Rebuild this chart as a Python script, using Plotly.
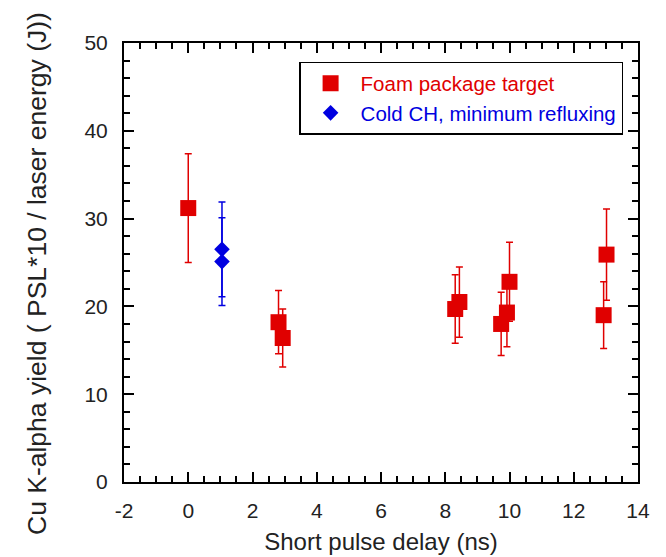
import plotly.graph_objects as go

# Foam package target (red squares)
foam_delay = [0.0, 2.81, 2.94, 8.31, 8.44, 9.74, 9.92, 10.0, 12.93, 13.02]
foam_yield = [31.2, 18.2, 16.4, 19.7, 20.5, 18.0, 19.3, 22.8, 19.0, 25.9]
foam_err = [6.2, 3.6, 3.3, 3.9, 4.0, 3.6, 3.9, 4.5, 3.8, 5.2]

# Cold CH, minimum refluxing (blue diamonds)
cold_delay = [1.05, 1.05]
cold_yield = [26.5, 25.1]
cold_err = [5.4, 5.0]

x_ticks = [-2, 0, 2, 4, 6, 8, 10, 12, 14]
y_ticks = [0, 10, 20, 30, 40, 50]

RED = "#e00000"
BLUE = "#0000e0"
FONT = "Liberation Sans, Arial, sans-serif"

fig = go.Figure()
fig.add_trace(go.Scatter(
    x=foam_delay, y=foam_yield, mode="markers",
    name="<span style='color:#e00000'>Foam package target</span>",
    marker=dict(symbol="square", size=16, color=RED),
    error_y=dict(type="data", array=foam_err, color=RED, thickness=1.5, width=3.5),
))
fig.add_trace(go.Scatter(
    x=cold_delay, y=cold_yield, mode="markers",
    name="<span style='color:#0000e0'>Cold CH, minimum refluxing</span>",
    marker=dict(symbol="diamond", size=12, color=BLUE),
    error_y=dict(type="data", array=cold_err, color=BLUE, thickness=1.5, width=3.5),
))

axis_common = dict(
    showline=True, linecolor="black", linewidth=2, mirror="allticks",
    ticks="inside", tickcolor="black", tickwidth=1.5, ticklen=10,
    showgrid=False, zeroline=False, automargin=False,
    tickfont=dict(family=FONT, size=21, color="#222"),
)

fig.update_xaxes(
    range=[-2, 14], tickvals=x_ticks, ticktext=[str(v) for v in x_ticks],
    minor=dict(dtick=0.5, ticks="inside", ticklen=6, tickcolor="black", tickwidth=1.5, showgrid=False),
    title=dict(text="Short pulse delay (ns)", font=dict(family=FONT, size=24, color="#222"), standoff=12),
    ticklabelstandoff=9,
    **axis_common,
)
fig.update_yaxes(
    range=[0, 50], tickvals=y_ticks, ticktext=[str(v) for v in y_ticks],
    minor=dict(dtick=2, ticks="inside", ticklen=6, tickcolor="black", tickwidth=1.5, showgrid=False),
    ticklabelstandoff=10,
    **axis_common,
)

fig.add_annotation(
    text="Cu K-alpha yield ( PSL*10 / laser energy (J))",
    xref="paper", yref="paper", x=(37 - 124) / 514, y=(482 - 274) / 439,
    xanchor="center", yanchor="middle", textangle=-90, showarrow=False,
    font=dict(family=FONT, size=26.5, color="#222"),
)

fig.update_layout(
    width=666, height=557,
    margin=dict(l=124, r=28, t=43, b=75),
    paper_bgcolor="white", plot_bgcolor="white",
    showlegend=True,
    legend=dict(
        x=0.971, xanchor="right", y=0.957, yanchor="top",
        bordercolor="black", borderwidth=1.5, bgcolor="white",
        font=dict(family=FONT, size=20.5),
        itemwidth=50, tracegroupgap=0,
    ),
)

fig.write_html("out.html")
